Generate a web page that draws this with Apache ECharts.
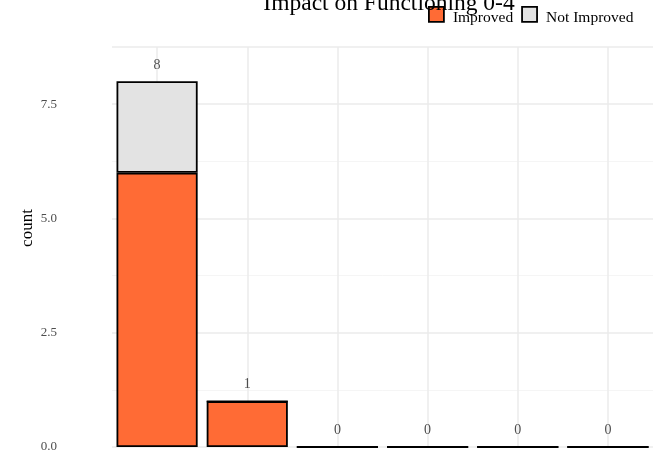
<!DOCTYPE html>
<html><head><meta charset="utf-8">
<script src="https://cdn.jsdelivr.net/npm/echarts@6/dist/echarts.min.js"></script>
<style>html,body{margin:0;padding:0;background:#fff}#c{width:653px;height:456px}</style>
</head><body><div id="c"></div>
<script>
const categories = ['1', '2', '3', '4', '5', '6'];
const improved = [6, 1, 0, 0, 0, 0];
const notImproved = [2, 0, 0, 0, 0, 0];
const totals = [8, 1, 0, 0, 0, 0];
const yTicks = [0, 2.5, 5, 7.5];

const FONT = '"Liberation Serif", "DejaVu Serif", serif';
const chart = echarts.init(document.getElementById('c'));
chart.setOption({
  animation: false,
  backgroundColor: '#ffffff',
  textStyle: { fontFamily: FONT },
  title: {
    text: 'Impact on Functioning 0-4',
    left: 384, textAlign: 'center', top: -13,
    textStyle: { fontFamily: FONT, fontSize: 23.5, fontWeight: 'normal', color: '#000' }
  },
  legend: {
    left: 428, top: 6, padding: 0,
    icon: 'rect',
    itemWidth: 15, itemHeight: 15, itemGap: 8,
    formatter: n => '{a|' + n + '}',
    textStyle: {
      fontFamily: FONT, fontSize: 15.5, color: '#000',
      rich: { a: { fontFamily: FONT, fontSize: 15.5, color: '#000', padding: [7, 0, 0, 4] } }
    },
    data: [
      { name: 'Improved', itemStyle: { color: '#FF6B35', borderColor: '#000', borderWidth: 1.8 } },
      { name: 'Not Improved', itemStyle: { color: '#E3E3E3', borderColor: '#000', borderWidth: 1.8 } }
    ]
  },
  graphic: [{
    type: 'text', x: 28, y: 228, rotation: Math.PI / 2,
    style: { text: 'count', fontFamily: FONT, fontSize: 17, fill: '#000', align: 'center', verticalAlign: 'middle' }
  }],
  grid: { left: 112, right: -3, top: 47, bottom: 9, containLabel: false },
  xAxis: {
    type: 'category', data: categories,
    axisLine: { show: false }, axisTick: { show: false }, axisLabel: { show: false },
    splitLine: { show: true, alignWithLabel: true, lineStyle: { color: '#EBEBEB', width: 1.5 } }
  },
  yAxis: {
    type: 'value', min: 0, max: 8.75, interval: 2.5,
    axisLine: { show: false }, axisTick: { show: false },
    axisLabel: {
      showMaxLabel: false, margin: 55, align: 'right',
      fontFamily: FONT, fontSize: 13, color: '#4D4D4D',
      formatter: v => yTicks.indexOf(v) >= 0 ? v.toFixed(1) : ''
    },
    splitLine: { lineStyle: { color: '#EBEBEB', width: 1.5 } },
    minorTick: { show: false, splitNumber: 2 },
    minorSplitLine: { show: true, lineStyle: { color: '#F5F5F5', width: 1 } }
  },
  series: [
    {
      name: 'Improved', type: 'bar', stack: 's', data: improved,
      barCategoryGap: '10%', z: 5,
      itemStyle: { color: '#FF6B35', borderColor: '#000', borderWidth: 1.8 }
    },
    {
      name: 'Not Improved', type: 'bar', stack: 's', data: notImproved,
      barCategoryGap: '10%', z: 5,
      itemStyle: { color: '#E3E3E3', borderColor: '#000', borderWidth: 1.8 },
      label: {
        show: true, position: 'top', distance: 9,
        fontFamily: FONT, fontSize: 14, color: '#4D4D4D',
        formatter: p => String(totals[p.dataIndex])
      }
    }
  ]
});
</script></body></html>
